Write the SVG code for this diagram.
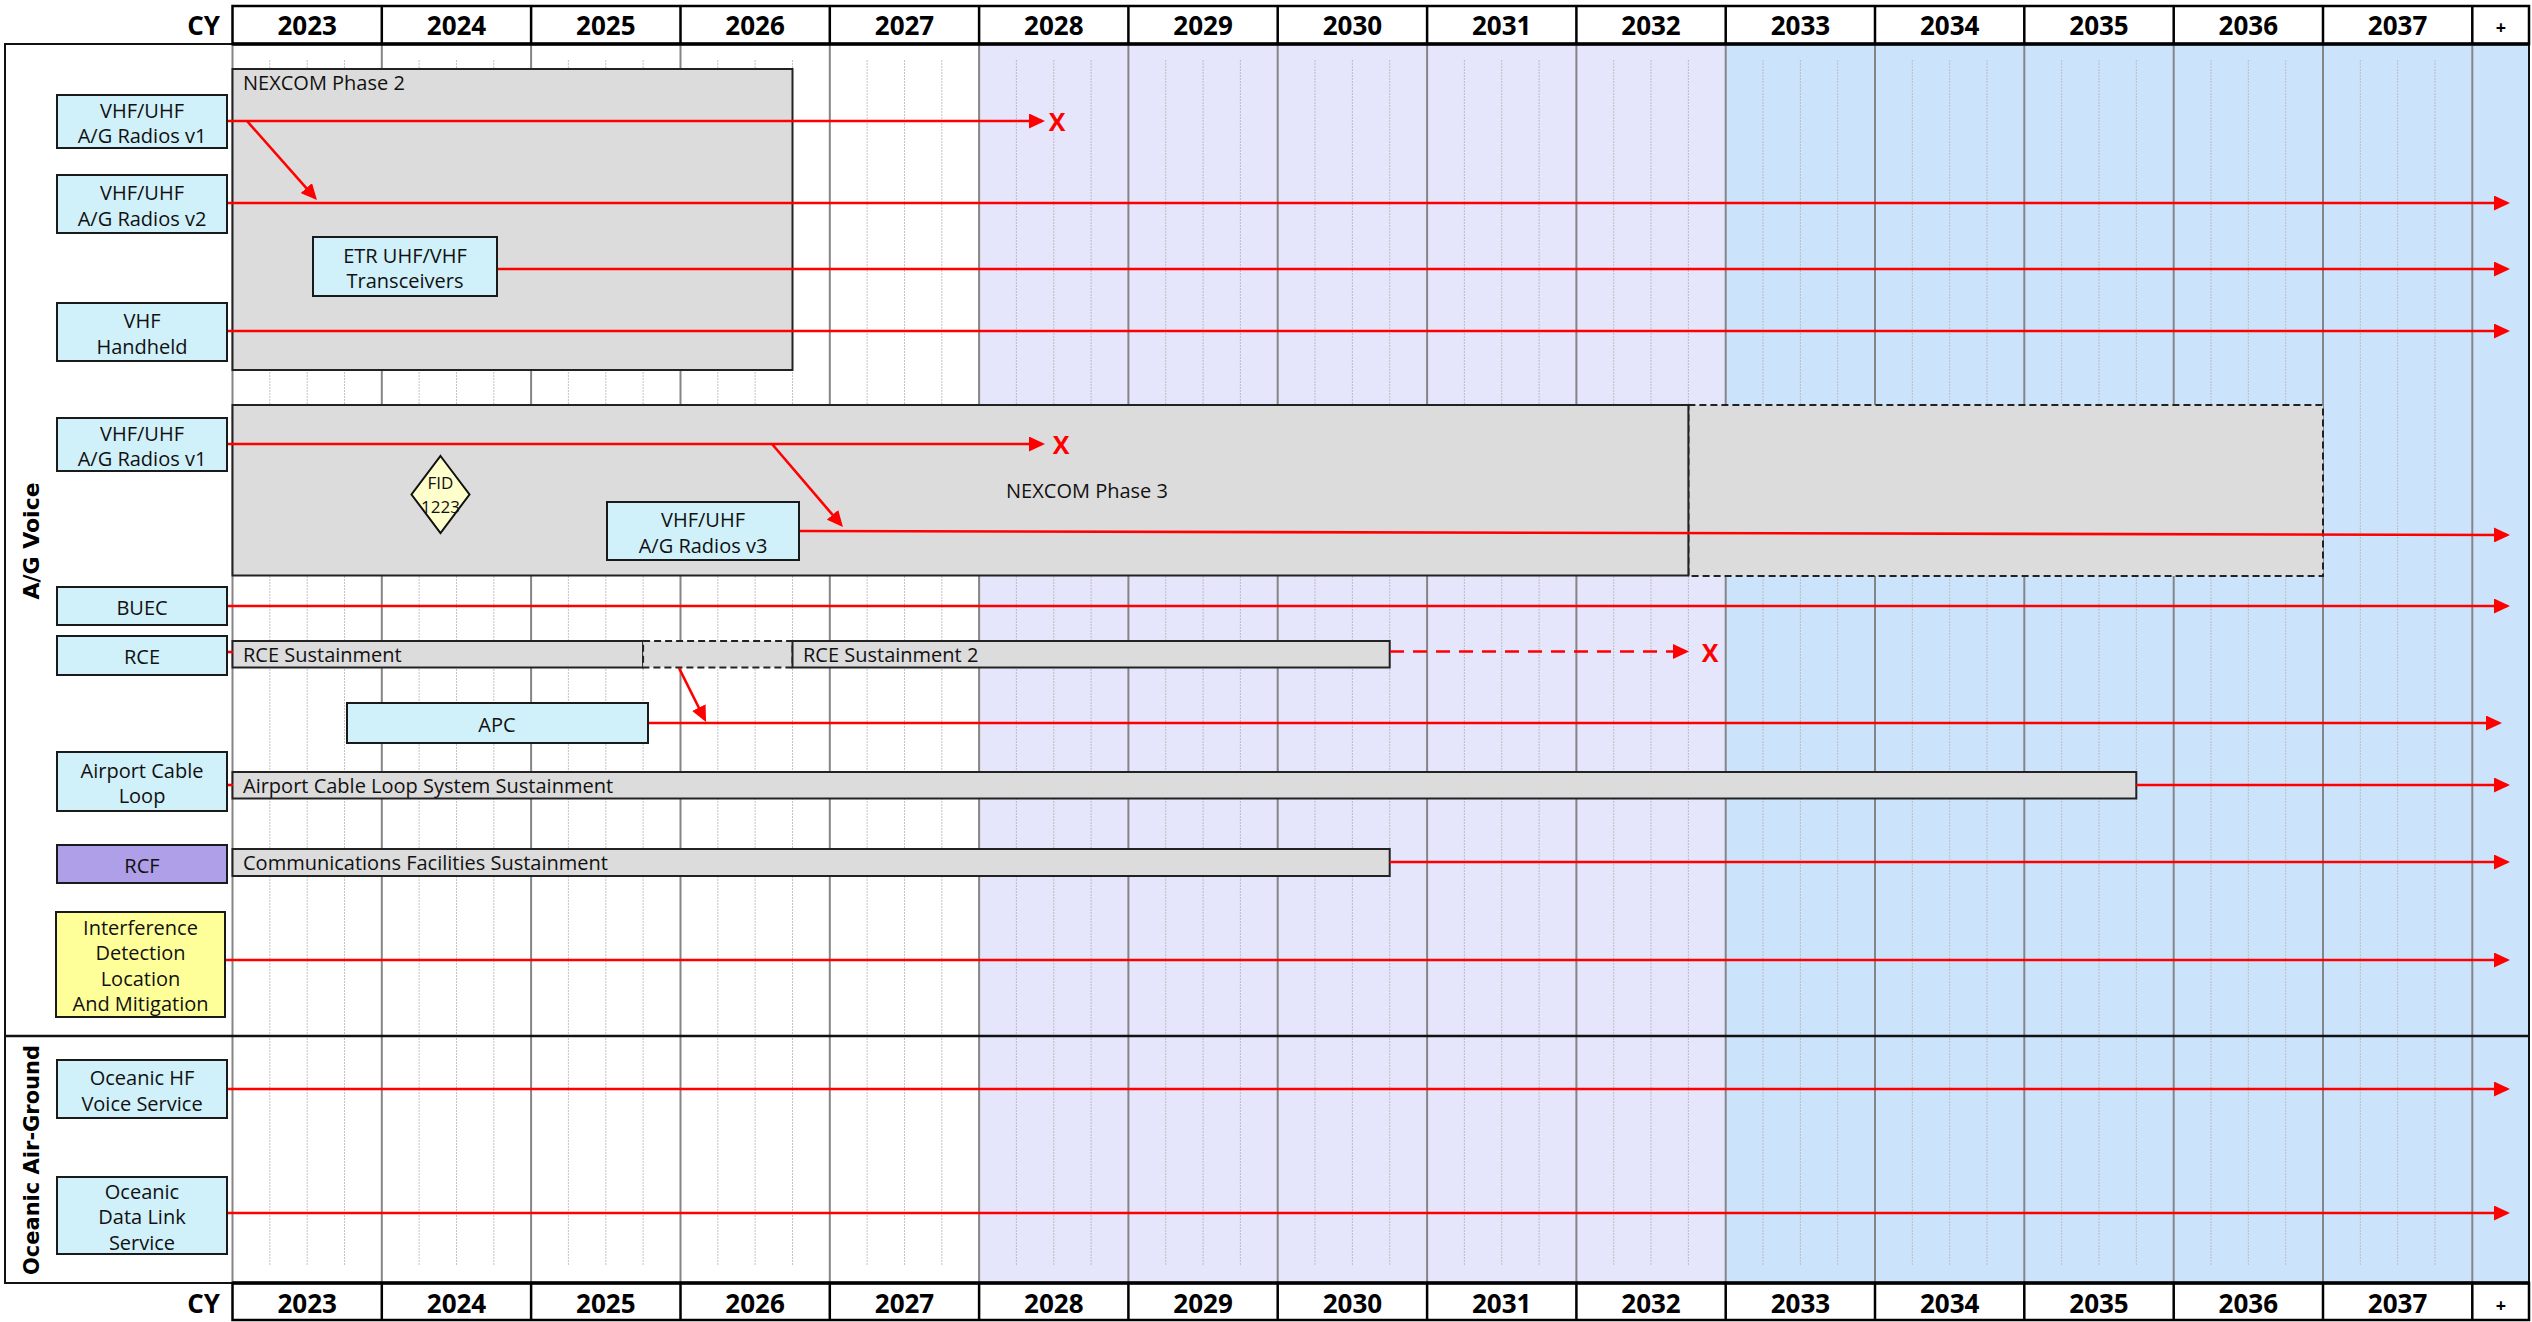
<svg xmlns="http://www.w3.org/2000/svg" width="2532" height="1322" viewBox="0 0 2532 1322">
<style>
.t{font-family:"Open Sans","Noto Sans","Liberation Sans",sans-serif;font-size:20px;fill:#111}
.c{text-anchor:middle}
.yr{font-family:"Open Sans","Noto Sans","Liberation Sans",sans-serif;font-size:26px;font-weight:bold;fill:#000;text-anchor:middle}
.sec{font-family:"DejaVu Sans","Liberation Sans",sans-serif;font-size:21px;font-weight:bold;fill:#000;text-anchor:middle}
.box{fill:#D0F0FA;stroke:#1a1a1a;stroke-width:2}
.bar{fill:#DCDCDC;stroke:#222;stroke-width:2}
.dsh{stroke-dasharray:7 4}
.red{stroke:#FF0000;stroke-width:2.6;fill:none}
.xm{font-family:"Open Sans","Noto Sans","Liberation Sans",sans-serif;font-size:25px;font-weight:bold;fill:#FF0000;text-anchor:middle}
</style>
<defs>
<marker id="arr" markerUnits="userSpaceOnUse" viewBox="0 0 16 15" markerWidth="16" markerHeight="15" refX="13" refY="7.5" orient="auto">
<path d="M0,0 L16,7.5 L0,15 Z" fill="#FF0000"/>
</marker>
</defs>
<rect x="0" y="0" width="2532" height="1322" fill="#FFFFFF"/>
<g id="background">
<rect x="979.1" y="44" width="746.6" height="1239" fill="#E5E5FC"/>
<rect x="1725.7" y="44" width="803.3" height="1239" fill="#CCE4FB"/>
<path d="M269.8 60V1265M307.2 60V1265M344.5 60V1265M419.1 60V1265M456.5 60V1265M493.8 60V1265M568.4 60V1265M605.8 60V1265M643.1 60V1265M717.8 60V1265M755.1 60V1265M792.5 60V1265M867.1 60V1265M904.5 60V1265M941.8 60V1265M1016.4 60V1265M1053.8 60V1265M1091.1 60V1265M1165.7 60V1265M1203.1 60V1265M1240.4 60V1265M1315 60V1265M1352.4 60V1265M1389.7 60V1265M1464.4 60V1265M1501.7 60V1265M1539.1 60V1265M1613.7 60V1265M1651 60V1265M1688.4 60V1265M1763 60V1265M1800.4 60V1265M1837.7 60V1265M1912.3 60V1265M1949.7 60V1265M1987 60V1265M2061.6 60V1265M2099 60V1265M2136.3 60V1265M2211 60V1265M2248.3 60V1265M2285.7 60V1265M2360.3 60V1265M2397.6 60V1265M2435 60V1265" stroke="#B4B4B4" stroke-width="0.8" stroke-dasharray="2 1" fill="none"/>
<path d="M232.5 44V1283M381.8 44V1283M531.1 44V1283M680.5 44V1283M829.8 44V1283M979.1 44V1283M1128.4 44V1283M1277.7 44V1283M1427.1 44V1283M1576.4 44V1283M1725.7 44V1283M1875 44V1283M2024.3 44V1283M2173.7 44V1283M2323 44V1283M2472.3 44V1283" stroke="#858585" stroke-width="2" fill="none"/>
<rect x="5" y="44" width="2524" height="1239" fill="none" stroke="#111" stroke-width="2"/>
<line x1="5" y1="1036" x2="2529" y2="1036" stroke="#111" stroke-width="2.5"/>
</g>
<g id="header-top">
<rect x="232.5" y="6" width="2296.5" height="38" fill="#FFFFFF" stroke="#000" stroke-width="2.5"/>
<path d="M381.8 6V44M531.1 6V44M680.5 6V44M829.8 6V44M979.1 6V44M1128.4 6V44M1277.7 6V44M1427.1 6V44M1576.4 6V44M1725.7 6V44M1875 6V44M2024.3 6V44M2173.7 6V44M2323 6V44M2472.3 6V44" stroke="#000" stroke-width="2.5"/>
<line x1="232.5" y1="44" x2="2529" y2="44" stroke="#000" stroke-width="3.5"/>
<text class="yr" x="220" y="35" style="text-anchor:end">CY</text>
<text class="yr" x="307.2" y="35">2023</text>
<text class="yr" x="456.5" y="35">2024</text>
<text class="yr" x="605.8" y="35">2025</text>
<text class="yr" x="755.1" y="35">2026</text>
<text class="yr" x="904.5" y="35">2027</text>
<text class="yr" x="1053.8" y="35">2028</text>
<text class="yr" x="1203.1" y="35">2029</text>
<text class="yr" x="1352.4" y="35">2030</text>
<text class="yr" x="1501.7" y="35">2031</text>
<text class="yr" x="1651" y="35">2032</text>
<text class="yr" x="1800.4" y="35">2033</text>
<text class="yr" x="1949.7" y="35">2034</text>
<text class="yr" x="2099" y="35">2035</text>
<text class="yr" x="2248.3" y="35">2036</text>
<text class="yr" x="2397.6" y="35">2037</text>
<text class="yr" x="2501" y="34" style="font-size:18px">+</text>
</g>
<g id="header-bottom">
<rect x="232.5" y="1283" width="2296.5" height="37" fill="#FFFFFF" stroke="#000" stroke-width="2.5"/>
<path d="M381.8 1283V1320M531.1 1283V1320M680.5 1283V1320M829.8 1283V1320M979.1 1283V1320M1128.4 1283V1320M1277.7 1283V1320M1427.1 1283V1320M1576.4 1283V1320M1725.7 1283V1320M1875 1283V1320M2024.3 1283V1320M2173.7 1283V1320M2323 1283V1320M2472.3 1283V1320" stroke="#000" stroke-width="2.5"/>
<line x1="232.5" y1="1283" x2="2529" y2="1283" stroke="#000" stroke-width="3.5"/>
<text class="yr" x="220" y="1313" style="text-anchor:end">CY</text>
<text class="yr" x="307.2" y="1313">2023</text>
<text class="yr" x="456.5" y="1313">2024</text>
<text class="yr" x="605.8" y="1313">2025</text>
<text class="yr" x="755.1" y="1313">2026</text>
<text class="yr" x="904.5" y="1313">2027</text>
<text class="yr" x="1053.8" y="1313">2028</text>
<text class="yr" x="1203.1" y="1313">2029</text>
<text class="yr" x="1352.4" y="1313">2030</text>
<text class="yr" x="1501.7" y="1313">2031</text>
<text class="yr" x="1651" y="1313">2032</text>
<text class="yr" x="1800.4" y="1313">2033</text>
<text class="yr" x="1949.7" y="1313">2034</text>
<text class="yr" x="2099" y="1313">2035</text>
<text class="yr" x="2248.3" y="1313">2036</text>
<text class="yr" x="2397.6" y="1313">2037</text>
<text class="yr" x="2501" y="1312" style="font-size:18px">+</text>
</g>
<g id="sections">
<text class="sec" transform="translate(39,541) rotate(-90)" style="font-size:22px">A/G Voice</text>
<text class="sec" transform="translate(39,1160) rotate(-90)">Oceanic Air-Ground</text>
</g>
<g id="programs">
<g id="nexcom-phase-2">
<rect class="bar" x="232.5" y="69" width="560" height="301"/>
<text class="t" x="243" y="90">NEXCOM Phase 2</text>
</g>
<g id="nexcom-phase-3">
<rect class="bar dsh" x="1688.4" y="405" width="634.6" height="171"/>
<rect class="bar" x="232.5" y="405" width="1455.9" height="170.5"/>
<text class="t c" x="1087" y="498">NEXCOM Phase 3</text>
</g>
<g id="rce-sustainment">
<rect class="bar" x="232.5" y="641" width="410.6" height="26.5"/>
<text class="t" x="243" y="662">RCE Sustainment</text>
</g>
<g id="rce-gap">
<rect class="bar dsh" x="643.1" y="641" width="149.4" height="26.5"/>
</g>
<g id="rce-sustainment-2">
<rect class="bar" x="792.5" y="641" width="597.2" height="26.5"/>
<text class="t" x="803" y="662">RCE Sustainment 2</text>
</g>
<g id="airport-cable-loop-sustainment">
<rect class="bar" x="232.5" y="772" width="1903.8" height="26.5"/>
<text class="t" x="243" y="793">Airport Cable Loop System Sustainment</text>
</g>
<g id="comm-facilities-sustainment">
<rect class="bar" x="232.5" y="849" width="1157.2" height="27"/>
<text class="t" x="243" y="870">Communications Facilities Sustainment</text>
</g>
</g>
<g id="connectors">
<line class="red" x1="227" y1="121" x2="1042" y2="121" marker-end="url(#arr)"/>
<line class="red" x1="247" y1="121" x2="315" y2="197.8" marker-end="url(#arr)"/>
<line class="red" x1="227" y1="203" x2="2507" y2="203" marker-end="url(#arr)"/>
<line class="red" x1="497" y1="269" x2="2507" y2="269" marker-end="url(#arr)"/>
<line class="red" x1="227" y1="331" x2="2507" y2="331" marker-end="url(#arr)"/>
<line class="red" x1="227" y1="444" x2="1042" y2="444" marker-end="url(#arr)"/>
<line class="red" x1="772" y1="444" x2="841" y2="524.7" marker-end="url(#arr)"/>
<line class="red" x1="799" y1="531" x2="2507" y2="535" marker-end="url(#arr)"/>
<line class="red" x1="227" y1="606" x2="2507" y2="606" marker-end="url(#arr)"/>
<line class="red" x1="227" y1="652" x2="233" y2="652"/>
<line class="red" x1="1390" y1="651.5" x2="1686" y2="651.5" stroke-dasharray="14 9" marker-end="url(#arr)"/>
<line class="red" x1="679" y1="668" x2="704.7" y2="719.3" marker-end="url(#arr)"/>
<line class="red" x1="647.5" y1="723" x2="2499" y2="723" marker-end="url(#arr)"/>
<line class="red" x1="227" y1="785" x2="233" y2="785"/>
<line class="red" x1="2136.3" y1="785" x2="2507" y2="785" marker-end="url(#arr)"/>
<line class="red" x1="1389.7" y1="862" x2="2507" y2="862" marker-end="url(#arr)"/>
<line class="red" x1="225" y1="960" x2="2507" y2="960" marker-end="url(#arr)"/>
<line class="red" x1="227" y1="1089" x2="2507" y2="1089" marker-end="url(#arr)"/>
<line class="red" x1="227" y1="1213" x2="2507" y2="1213" marker-end="url(#arr)"/>
<text class="xm" x="1057" y="130.5">X</text>
<text class="xm" x="1061" y="454">X</text>
<text class="xm" x="1710" y="662">X</text>
</g>
<g id="node-vhf-uhf-v1-a">
<rect class="box" x="57" y="95" width="170" height="53"/>
<text class="t c" x="142" y="117.5">VHF/UHF</text>
<text class="t c" x="142" y="143">A/G Radios v1</text>
</g>
<g id="node-vhf-uhf-v2">
<rect class="box" x="57" y="175" width="170" height="58"/>
<text class="t c" x="142" y="200">VHF/UHF</text>
<text class="t c" x="142" y="225.5">A/G Radios v2</text>
</g>
<g id="node-etr">
<rect class="box" x="313" y="237" width="184" height="59"/>
<text class="t c" x="405" y="262.5">ETR UHF/VHF</text>
<text class="t c" x="405" y="288">Transceivers</text>
</g>
<g id="node-vhf-handheld">
<rect class="box" x="57" y="303" width="170" height="58"/>
<text class="t c" x="142" y="328">VHF</text>
<text class="t c" x="142" y="353.5">Handheld</text>
</g>
<g id="node-vhf-uhf-v1-b">
<rect class="box" x="57" y="418" width="170" height="53"/>
<text class="t c" x="142" y="440.5">VHF/UHF</text>
<text class="t c" x="142" y="466">A/G Radios v1</text>
</g>
<g id="node-fid-1223">
<path d="M440.5,456 L469.5,494.5 L440.5,533 L411.5,494.5 Z" fill="#FFFFCC" stroke="#111" stroke-width="2"/>
<text class="t c" x="440.5" y="489" style="font-size:17px">FID</text>
<text class="t c" x="440.5" y="513" style="font-size:17px">1223</text>
</g>
<g id="node-vhf-uhf-v3">
<rect class="box" x="607" y="502" width="192" height="58"/>
<text class="t c" x="703" y="527">VHF/UHF</text>
<text class="t c" x="703" y="552.5">A/G Radios v3</text>
</g>
<g id="node-buec">
<rect class="box" x="57" y="587" width="170" height="38"/>
<text class="t c" x="142" y="614.5">BUEC</text>
</g>
<g id="node-rce">
<rect class="box" x="57" y="636" width="170" height="39"/>
<text class="t c" x="142" y="664">RCE</text>
</g>
<g id="node-apc">
<rect class="box" x="347" y="703" width="301" height="40"/>
<text class="t c" x="497" y="731.5">APC</text>
</g>
<g id="node-airport-cable-loop">
<rect class="box" x="57" y="752" width="170" height="59"/>
<text class="t c" x="142" y="777.5">Airport Cable</text>
<text class="t c" x="142" y="803">Loop</text>
</g>
<g id="node-rcf">
<rect class="box" x="57" y="845" width="170" height="38" style="fill:#AF9FE8"/>
<text class="t c" x="142" y="872.5">RCF</text>
</g>
<g id="node-interference">
<rect class="box" x="56" y="912" width="169" height="105" style="fill:#FFFF99"/>
<text class="t c" x="140.5" y="934.7">Interference</text>
<text class="t c" x="140.5" y="960.2">Detection</text>
<text class="t c" x="140.5" y="985.7">Location</text>
<text class="t c" x="140.5" y="1011.2">And Mitigation</text>
</g>
<g id="node-oceanic-hf">
<rect class="box" x="57" y="1060" width="170" height="58"/>
<text class="t c" x="142" y="1085">Oceanic HF</text>
<text class="t c" x="142" y="1110.5">Voice Service</text>
</g>
<g id="node-oceanic-data-link">
<rect class="box" x="57" y="1177" width="170" height="77"/>
<text class="t c" x="142" y="1198.5">Oceanic</text>
<text class="t c" x="142" y="1224">Data Link</text>
<text class="t c" x="142" y="1249.5">Service</text>
</g>
</svg>
